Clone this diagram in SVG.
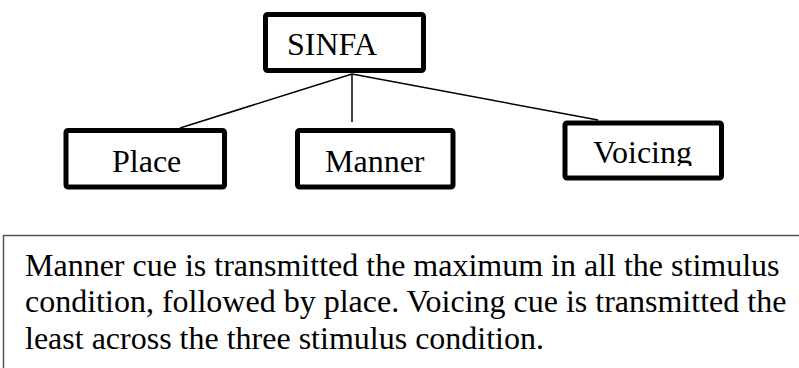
<svg xmlns="http://www.w3.org/2000/svg" width="799" height="368" viewBox="0 0 799 368">
  <style>
    .node { fill: #ffffff; stroke: #000000; stroke-width: 5; }
    .label { font-family: "Liberation Serif", "Times New Roman", serif; font-size: 32px; fill: #000000; }
    .conn { stroke: #000000; stroke-width: 1.5; fill: none; }
    .note { fill: #ffffff; stroke: #555555; stroke-width: 1.5; }
  </style>
  <defs>
    <clipPath id="voicingClip">
      <rect x="565" y="123" width="156" height="43"/>
    </clipPath>
  </defs>
  <g id="connectors">
    <line class="conn" x1="352" y1="74" x2="180" y2="128"/>
    <line class="conn" x1="352" y1="74" x2="352" y2="122"/>
    <line class="conn" x1="352" y1="74" x2="598" y2="120"/>
  </g>
  <g id="node-sinfa">
    <rect class="node" x="265.5" y="14.5" width="158" height="56" rx="2"/>
    <text class="label" x="287" y="55">SINFA</text>
  </g>
  <g id="node-place">
    <rect class="node" x="66" y="130.5" width="158.5" height="56.5" rx="2"/>
    <text class="label" x="112" y="172">Place</text>
  </g>
  <g id="node-manner">
    <rect class="node" x="297.5" y="130.5" width="155.5" height="56.5" rx="2"/>
    <text class="label" x="325" y="172">Manner</text>
  </g>
  <g id="node-voicing">
    <rect class="node" x="565" y="123" width="156.5" height="55" rx="2"/>
    <text class="label" x="593" y="163" clip-path="url(#voicingClip)">Voicing</text>
  </g>
  <g id="note">
    <rect class="note" x="3.5" y="235.5" width="810" height="150"/>
    <text class="label" x="25" y="275.5">Manner cue is transmitted the maximum in all the stimulus</text>
    <text class="label" x="25" y="312">condition, followed by place. Voicing cue is transmitted the</text>
    <text class="label" x="25" y="348.5">least across the three stimulus condition.</text>
  </g>
</svg>
